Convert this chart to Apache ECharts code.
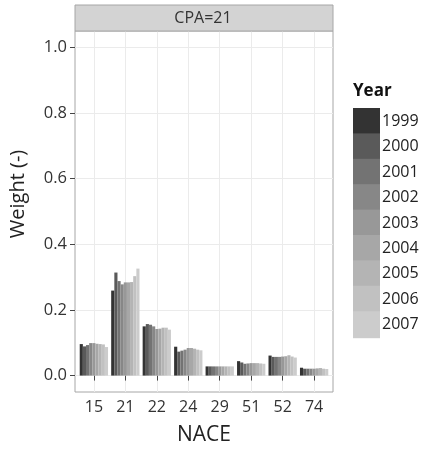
<!DOCTYPE html>
<html>
<head>
<meta charset="utf-8">
<script src="https://cdn.jsdelivr.net/npm/echarts@6/dist/echarts.min.js"></script>
<style>
  html, body { margin: 0; padding: 0; background: #ffffff; }
  #chart { width: 422px; height: 454px; }
</style>
</head>
<body>
<div id="chart"></div>
<script>
// NACE sectors on the x axis
const naceCodes = ['15', '21', '22', '24', '29', '51', '52', '74'];
// Years, one bar per year inside each sector
const years = ['1999', '2000', '2001', '2002', '2003', '2004', '2005', '2006', '2007'];
// Grey fill for each year (dark to light)
const yearColors = ['#333333', '#5a5a5a', '#737373', '#878787', '#989898',
                    '#a7a7a7', '#b4b4b4', '#c1c1c1', '#cccccc'];
// Weights per sector, one value per year 1999..2007
const w15 = [0.096, 0.089, 0.093, 0.099, 0.099, 0.097, 0.096, 0.095, 0.087];
const w21 = [0.259, 0.314, 0.288, 0.278, 0.284, 0.284, 0.285, 0.303, 0.326];
const w22 = [0.150, 0.157, 0.155, 0.150, 0.142, 0.143, 0.146, 0.146, 0.140];
const w24 = [0.088, 0.073, 0.076, 0.079, 0.084, 0.084, 0.082, 0.079, 0.077];
const w29 = [0.028, 0.028, 0.028, 0.028, 0.028, 0.028, 0.028, 0.028, 0.028];
const w51 = [0.044, 0.040, 0.036, 0.037, 0.038, 0.038, 0.038, 0.037, 0.036];
const w52 = [0.061, 0.057, 0.057, 0.057, 0.058, 0.059, 0.062, 0.058, 0.055];
const w74 = [0.024, 0.021, 0.021, 0.021, 0.021, 0.022, 0.023, 0.021, 0.020];
// Y axis tick labels
const yTicks = [0, 0.2, 0.4, 0.6, 0.8, 1.0];

const weightsBySector = [w15, w21, w22, w24, w29, w51, w52, w74];
const sectorPositions = naceCodes.map((_, i) => i + 1);

const fontFamily = '"Open Sans", "Noto Sans", sans-serif';

const series = years.map((year, j) => ({
  name: year,
  type: 'bar',
  barCategoryGap: '10%',
  barGap: '0%',
  itemStyle: { color: yearColors[j], borderWidth: 0 },
  emphasis: { disabled: true },
  data: weightsBySector.map((vals, i) => [sectorPositions[i], vals[j]])
}));

const chart = echarts.init(document.getElementById('chart'), null, { renderer: 'canvas' });
chart.setOption({
  animation: false,
  backgroundColor: '#ffffff',
  textStyle: { fontFamily: fontFamily },
  grid: {
    left: 75, right: 89, top: 31, bottom: 62,
    show: true, borderColor: '#a6a6a6', borderWidth: 1,
    containLabel: false
  },
  graphic: [
    // facet strip
    {
      type: 'rect',
      shape: { x: 75, y: 5, width: 258, height: 26 },
      style: { fill: '#d3d3d3', stroke: '#a6a6a6', lineWidth: 1 },
      z: 10
    },
    {
      type: 'text',
      x: 203, y: 18.5,
      style: {
        text: 'CPA=21', fill: '#333333', font: '16px ' + fontFamily,
        align: 'center', verticalAlign: 'middle'
      },
      z: 11
    },
    // y axis title
    {
      type: 'text',
      x: 18, y: 194,
      rotation: Math.PI / 2,
      style: {
        text: 'Weight (-)', fill: '#222222', font: '20px ' + fontFamily,
        align: 'center', verticalAlign: 'middle'
      },
      z: 11
    }
  ],
  title: {
    text: 'Year',
    left: 353, top: 83,
    padding: 0,
    textStyle: { fontSize: 17, fontWeight: 'bold', color: '#111111', fontFamily: fontFamily }
  },
  legend: {
    orient: 'vertical',
    left: 353, top: 108,
    padding: 0,
    itemWidth: 27, itemHeight: 27,
    itemGap: -1.6,
    icon: 'rect',
    selectedMode: false,
    itemStyle: { borderWidth: 0 },
    textStyle: { fontSize: 16, color: '#222222', fontFamily: fontFamily, padding: [0, 0, 0, -3] },
    data: years
  },
  xAxis: {
    type: 'value',
    min: 0.4, max: 8.6,
    name: 'NACE',
    nameLocation: 'middle',
    nameGap: 33,
    nameTextStyle: { fontSize: 21, color: '#222222', fontFamily: fontFamily },
    axisLine: { show: false },
    axisTick: { show: true, length: 5, lineStyle: { color: '#444444' }, customValues: sectorPositions },
    axisLabel: {
      customValues: sectorPositions,
      formatter: v => naceCodes[Math.round(v) - 1] || '',
      fontSize: 16, color: '#333333', margin: 7, fontFamily: fontFamily
    },
    splitLine: { show: true, lineStyle: { color: '#ebebeb', width: 1 } }
  },
  yAxis: {
    type: 'value',
    min: -0.05, max: 1.05,
    axisLine: { show: false },
    axisTick: { show: true, length: 5, lineStyle: { color: '#444444' }, customValues: yTicks },
    axisLabel: {
      customValues: yTicks,
      formatter: v => v.toFixed(1),
      fontSize: 16.5, color: '#333333', margin: 8, fontFamily: fontFamily
    },
    splitLine: { show: true, lineStyle: { color: '#ebebeb', width: 1 } }
  },
  series: series
});
</script>
</body>
</html>
